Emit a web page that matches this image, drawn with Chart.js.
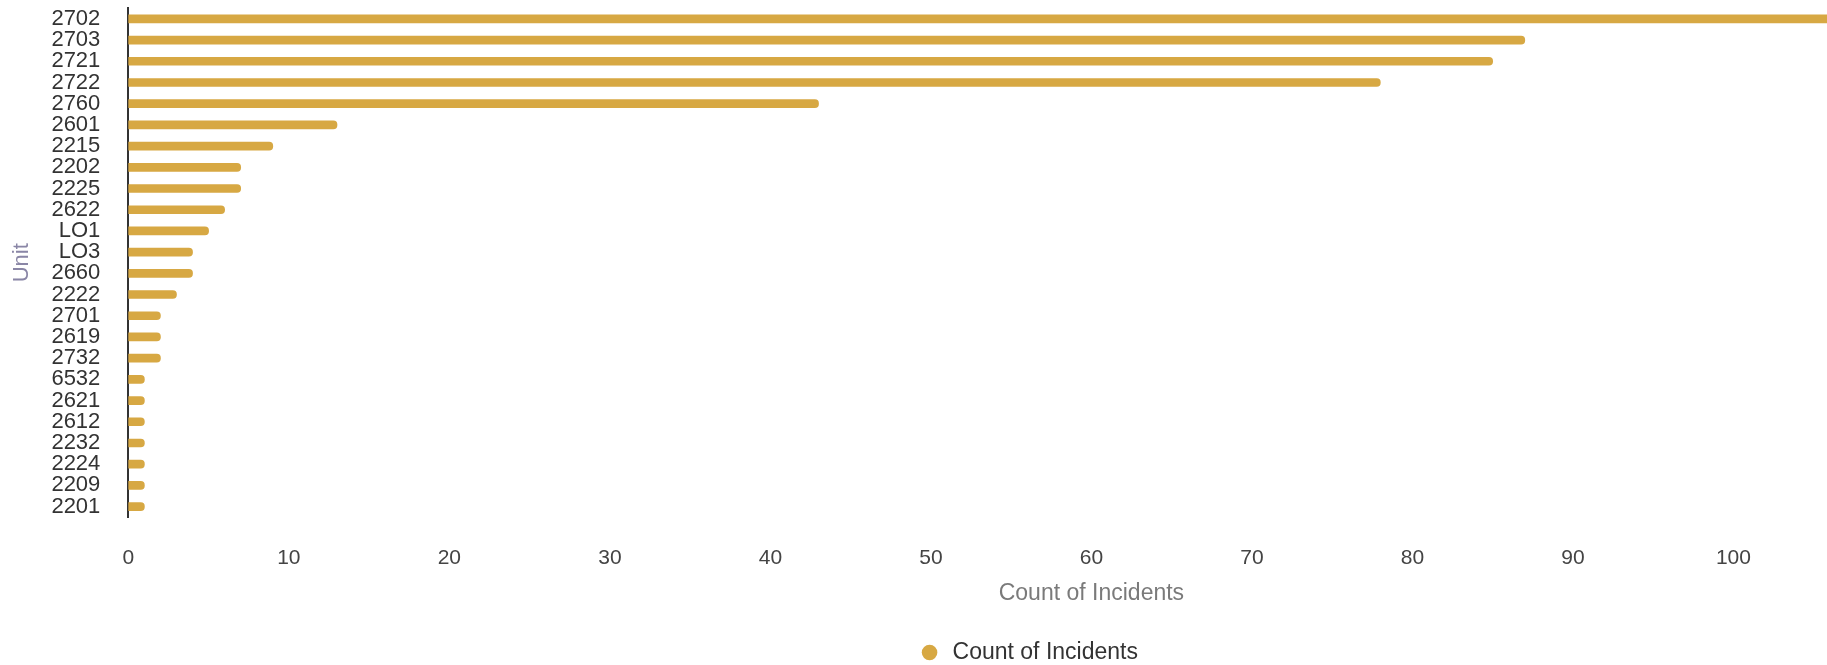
<!DOCTYPE html>
<html lang="en">
<head>
  <meta charset="UTF-8" />
  <title>Count of Incidents by Unit</title>
  <style>
    html, body { margin: 0; padding: 0; background: #fff; overflow: hidden; }
    /* the original chart is wider than the picture, its right side is cut off */
    .wrap { width: 2072px; height: 665px; position: relative; }
  </style>
</head>
<body>
  <div class="wrap">
    <canvas id="unitChart"></canvas>
  </div>

  <script src="https://cdn.jsdelivr.net/npm/chart.js"></script>
  <script>
    const units = ['2702', '2703', '2721', '2722', '2760', '2601', '2215', '2202', '2225', '2622',
                   'LO1', 'LO3', '2660', '2222', '2701', '2619', '2732', '6532', '2621', '2612',
                   '2232', '2224', '2209', '2201'];
    const incidents = [110, 87, 85, 78, 43, 13, 9, 7, 7, 6,
                       5, 4, 4, 3, 2, 2, 2, 1, 1, 1,
                       1, 1, 1, 1];
    const seriesName = 'Count of Incidents';
    const barColor = '#D7A843';
    const fontFamily = 'Liberation Sans, Arial, sans-serif';

    const ctx = document.getElementById('unitChart').getContext('2d');
    new Chart(ctx, {
      type: 'bar',
      data: {
        labels: units,
        datasets: [{
          label: seriesName,
          data: incidents,
          backgroundColor: barColor,
          borderWidth: 0,
          barThickness: 8,
          borderRadius: 4,
          borderSkipped: 'start'
        }]
      },
      options: {
        indexAxis: 'y',
        responsive: true,
        maintainAspectRatio: false,
        animation: false,
        layout: { padding: { top: 0, right: 16, left: 0, bottom: -9 } },
        scales: {
          x: {
            min: 0,
            max: 120,
            // tick marks hidden, tickLength only used as the gap under the plot
            grid: { display: false, drawTicks: true, tickLength: 28 },
            ticks: { stepSize: 10, padding: 0, color: '#444', font: { family: fontFamily, size: 21 } },
            border: { display: false },
            title: {
              display: true,
              text: 'Count of Incidents',
              color: '#7a7a7a',
              font: { family: fontFamily, size: 23 },
              padding: { top: 9, bottom: 34 }
            }
          },
          y: {
            grid: { display: false, drawTicks: true, tickLength: 28 },
            ticks: { autoSkip: false, padding: 0, color: '#333', font: { family: fontFamily, size: 22, lineHeight: 0.75 } },
            border: { display: true, color: '#333', width: 2 },
            title: {
              display: true,
              text: 'Unit',
              color: '#8a86a6',
              font: { family: fontFamily, size: 22 },
              padding: { top: 9, bottom: 16 }
            }
          }
        },
        plugins: {
          legend: {
            position: 'bottom',
            labels: {
              usePointStyle: true,
              pointStyle: 'circle',
              boxWidth: 24,
              boxHeight: 11,
              padding: 0,
              color: '#333',
              font: { family: fontFamily, size: 23 }
            }
          },
          tooltip: { enabled: false }
        }
      }
    });
  </script>
</body>
</html>
